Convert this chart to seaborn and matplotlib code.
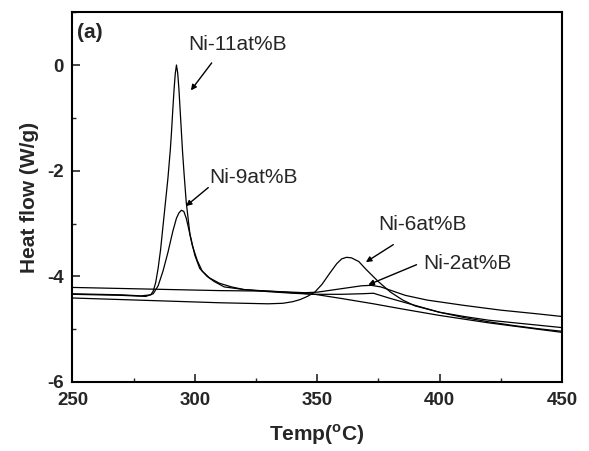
import matplotlib
matplotlib.use("Agg")
import matplotlib.pyplot as plt
import seaborn as sns
import pandas as pd
from matplotlib.ticker import MultipleLocator

# ---- data ----
t_ni11 = [250, 260, 270, 278, 282, 283, 284, 285, 286, 287, 288, 289, 290, 290.5, 291, 291.5,
          292, 292.5, 293, 293.5, 294, 294.5, 295, 295.6, 296.5, 298, 300, 302, 305, 308, 312,
          320, 330, 340, 349, 360, 368, 373, 380, 390, 400, 410, 420, 430, 440, 450]
v_ni11 = [-4.33, -4.34, -4.35, -4.37, -4.35, -4.28, -4.12, -3.85, -3.5, -3.05, -2.6, -2.15, -1.6,
          -1.25, -0.85, -0.48, -0.17, 0.0, -0.15, -0.45, -0.85, -1.25, -1.65, -2.05, -2.6, -3.2,
          -3.6, -3.85, -4.0, -4.1, -4.2, -4.25, -4.28, -4.31, -4.34, -4.34, -4.33, -4.32,
          -4.42, -4.55, -4.68, -4.78, -4.86, -4.93, -4.99, -5.04]

t_ni9 = [250, 270, 280, 283, 285, 287, 289, 291, 292.5, 293.5, 294.5, 295.5, 296.5, 297.5, 299,
         301, 303, 306, 310, 315, 320, 330, 340, 349, 360, 373, 385, 400, 420, 435, 450]
v_ni9 = [-4.34, -4.36, -4.38, -4.33, -4.18, -3.9, -3.55, -3.15, -2.9, -2.8, -2.75, -2.77, -2.9,
         -3.1, -3.42, -3.7, -3.9, -4.03, -4.13, -4.2, -4.25, -4.29, -4.32, -4.34, -4.42, -4.52,
         -4.62, -4.74, -4.88, -4.97, -5.06]

t_ni6 = [250, 270, 290, 310, 330, 336, 340, 343, 346, 349, 352, 355, 358, 360, 362, 364, 367,
         370, 375, 380, 385, 390, 400, 410, 420, 435, 450]
v_ni6 = [-4.41, -4.44, -4.47, -4.5, -4.52, -4.51, -4.48, -4.44, -4.38, -4.3, -4.15, -3.95, -3.76,
         -3.67, -3.64, -3.65, -3.72, -3.87, -4.1, -4.3, -4.45, -4.56, -4.68, -4.76, -4.83, -4.9,
         -4.97]

t_ni2 = [250, 270, 290, 310, 330, 340, 345, 350, 356, 362, 368, 372, 376, 381, 386, 395, 410,
         425, 440, 450]
v_ni2 = [-4.21, -4.23, -4.25, -4.27, -4.28, -4.3, -4.31, -4.3, -4.26, -4.22, -4.18, -4.17, -4.2,
         -4.28, -4.36, -4.45, -4.55, -4.64, -4.71, -4.76]

labels = ["Ni-11at%B", "Ni-9at%B", "Ni-6at%B", "Ni-2at%B"]
x_ticks = [250, 300, 350, 400, 450]
y_ticks = [-6, -4, -2, 0]

frames = []
for name, t, v in zip(labels, [t_ni11, t_ni9, t_ni6, t_ni2], [v_ni11, v_ni9, v_ni6, v_ni2]):
    frames.append(pd.DataFrame({"Temp": t, "Heat": v, "sample": name}))
df = pd.concat(frames, ignore_index=True)

sns.set_theme(style="ticks")
plt.rcParams["font.family"] = ["Liberation Sans", "DejaVu Sans"]
plt.rcParams["axes.unicode_minus"] = False
plt.rcParams["mathtext.fontset"] = "custom"
plt.rcParams["mathtext.rm"] = "Liberation Sans"
plt.rcParams["mathtext.bf"] = "Liberation Sans:bold"

fig = plt.figure(figsize=(5.89, 4.51), dpi=100)
ax = fig.add_axes([0.123, 0.153, 0.831, 0.820])

sns.lineplot(data=df, x="Temp", y="Heat", units="sample", estimator=None, sort=False,
             color="black", linewidth=0.9, ax=ax, legend=False)

ax.set_xlim(250, 450)
ax.set_ylim(-6, 1.0)
ax.set_xticks(x_ticks)
ax.set_yticks(y_ticks)
ax.xaxis.set_minor_locator(MultipleLocator(25))
ax.yaxis.set_minor_locator(MultipleLocator(1))
ax.tick_params(axis="x", which="major", direction="in", length=6, width=1.2,
               labelsize=13.5, pad=7)
ax.tick_params(axis="y", which="major", direction="in", length=6, width=1.2,
               labelsize=13.5, pad=6)
ax.tick_params(axis="both", which="minor", direction="in", length=3, width=1.0)
for lab in ax.get_xticklabels() + ax.get_yticklabels():
    lab.set_fontweight("bold")
for s in ax.spines.values():
    s.set_linewidth(1.5)
    s.set_color("black")

ax.set_xlabel(r"Temp($^\mathregular{o}$C)", fontsize=15, fontweight="bold", labelpad=10)
ax.set_ylabel("Heat flow (W/g)", fontsize=15, fontweight="bold", labelpad=6)

ax.text(252, 0.62, "(a)", fontsize=15, fontweight="bold", ha="left", va="center")

arrow = dict(arrowstyle="-|>", color="black", lw=1.0, mutation_scale=8, shrinkA=0, shrinkB=0)
ax.annotate("", xy=(298.4, -0.48), xytext=(306.9, 0.04), arrowprops=arrow)
ax.text(317.5, 0.38, labels[0], fontsize=15, ha="center", va="center")
ax.annotate("", xy=(296.4, -2.67), xytext=(305.5, -2.32), arrowprops=arrow)
ax.text(324, -2.13, labels[1], fontsize=15, ha="center", va="center")
ax.annotate("", xy=(369.9, -3.73), xytext=(381.1, -3.40), arrowprops=arrow)
ax.text(393, -3.02, labels[2], fontsize=15, ha="center", va="center")
ax.annotate("", xy=(370.9, -4.16), xytext=(390.6, -3.78), arrowprops=arrow)
ax.text(411.4, -3.75, labels[3], fontsize=15, ha="center", va="center")

fig.savefig("out.png", dpi=100)
